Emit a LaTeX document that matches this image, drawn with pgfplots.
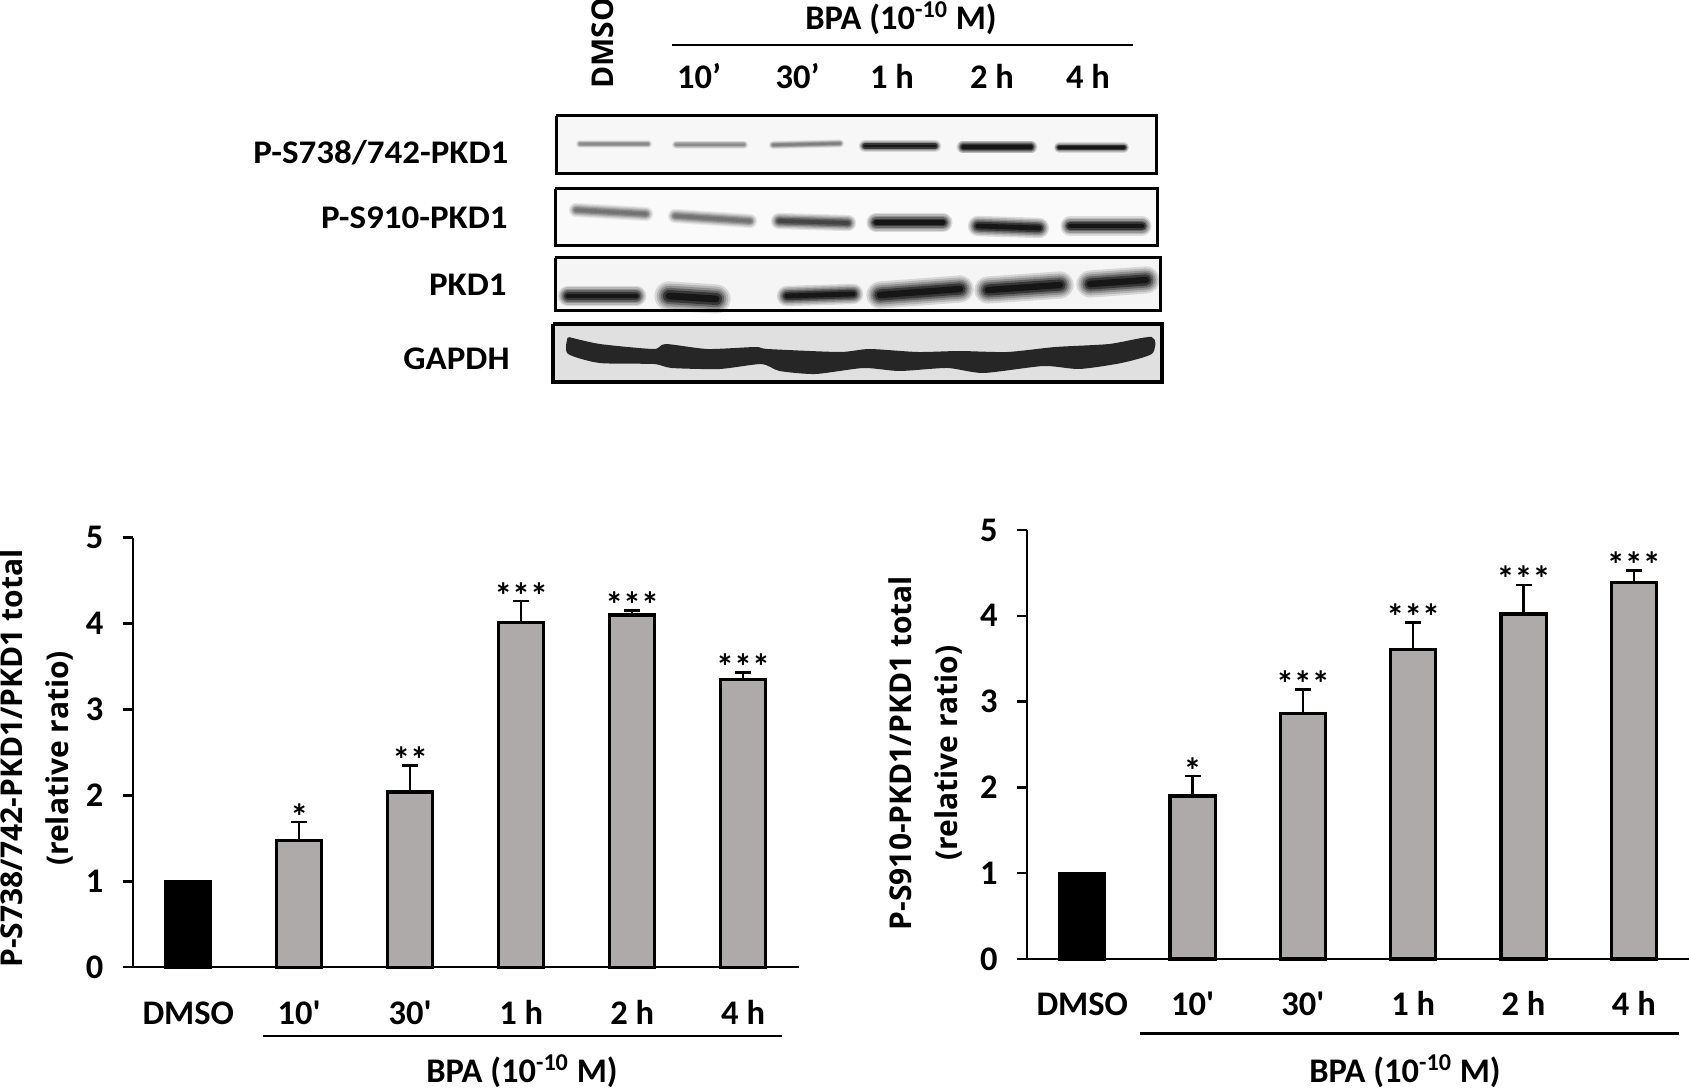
\documentclass[border=0pt]{standalone}
\usepackage{fontspec}
\usepackage{pgfplots}
\pgfplotsset{compat=1.18}
\setmainfont{Carlito}
\newfontfamily\straight{Carlito}
\newfontfamily\widefont{Carlito}[FakeStretch=1.06]
\newfontfamily\ylabfont{Open Sans}
\newcommand{\lab}{\fontsize{17.25}{20}\selectfont\bfseries}
\newcommand{\blotlab}{\fontsize{16.5}{20}\selectfont\widefont\bfseries}
\newcommand{\ylab}{\fontsize{15}{23}\selectfont\ylabfont\bfseries}
\definecolor{bargray}{HTML}{AEAAAA}

% soft edged blot band: colour, width (pt), points
\newcommand{\band}[3]{%
  \addplot[#1, line cap=round, opacity=.12, line width=#2*1.7pt] coordinates {#3};
  \addplot[#1, line cap=round, opacity=.15, line width=#2*1.45pt] coordinates {#3};
  \addplot[#1, line cap=round, opacity=.2, line width=#2*1.2pt] coordinates {#3};
  \addplot[#1, line cap=round, opacity=.3, line width=#2*0.95pt] coordinates {#3};
  \addplot[#1, line cap=round, opacity=.45, line width=#2*0.7pt] coordinates {#3};
  \addplot[#1, line cap=round, opacity=.6, line width=#2*0.4pt] coordinates {#3};
}

\pgfplotsset{
  chart/.style={
    scale only axis, clip=false,
    axis lines*=left, axis line style={-, line width=1.2pt},
    xmin=-0.5, xmax=5.5, ymin=0, ymax=5,
    xtick={0,1,2,3,4,5},
    xticklabels={DMSO,{\straight 10'},{\straight 30'},1 h,2 h,4 h},
    ytick={0,1,2,3,4,5},
    major tick length=5pt,
    tick style={black, line width=1.2pt},
    x tick style={draw=none},
    tick align=outside,
    /pgf/number format/assume math mode=true,
    tick label style={font=\lab},
    xticklabel style={anchor=base, inner sep=0pt, yshift=-23.5pt},
    yticklabel style={anchor=east, inner sep=0pt, xshift=-9.5pt},
    ylabel style={font=\ylab, align=center, rotate=0, anchor=center},
  },
  bars/.style={ybar, bar shift=0pt, bar width=22.6pt, line width=1.6pt, draw=black},
  errs/.style={error bars/.cd, y dir=plus, y explicit, error mark=-,
    error bar style={line width=1.2pt, black},
    error mark options={mark size=4pt, line width=1.2pt, black, rotate=90}},
  stars/.style={draw=none, mark=none, point meta=explicit symbolic, nodes near coords,
    every node near coord/.style={anchor=base, yshift=-3.5pt, inner sep=0pt, font=\fontsize{18}{20}\selectfont\bfseries}},
}

\begin{document}
\begin{tikzpicture}
\path[use as bounding box] (0,0) rectangle (844.5pt,545pt);

% left chart
\begin{axis}[chart, at={(66.4pt,61.35pt)}, anchor=south west, width=332.9pt, height=214.85pt,
  ylabel={P-S738/742-PKD1/PKD1 total\\(relative ratio)},
  ylabel style={at={(axis description cs:-0.144,0.486)}}]
\addplot[bars, fill=black] coordinates {(0,1)};
\addplot[bars, fill=bargray, errs] table[x=x, y=y, y error=e, row sep=\\] {
x y e\\ 1 1.48 0.21\\ 2 2.04 0.31\\ 3 4.01 0.25\\ 4 4.10 0.05\\ 5 3.35 0.08\\ };
\addplot[stars] table[x=x, y=y, meta=s, row sep=\\] {
x y s\\ 1 1.69 *\\ 2 2.35 **\\ 3 4.26 ***\\ 4 4.15 ***\\ 5 3.43 ***\\ };
\end{axis}

% right chart
\begin{axis}[chart, at={(513.55pt,65.5pt)}, anchor=south west, width=330.95pt, height=214.5pt,
  ylabel={P-S910-PKD1/PKD1 total\\(relative ratio)},
  ylabel style={at={(axis description cs:-0.154,0.480)}}]
\addplot[bars, fill=black] coordinates {(0,1)};
\addplot[bars, fill=bargray, errs] table[x=x, y=y, y error=e, row sep=\\] {
x y e\\ 1 1.90 0.23\\ 2 2.86 0.28\\ 3 3.61 0.31\\ 4 4.02 0.34\\ 5 4.39 0.14\\ };
\addplot[stars] table[x=x, y=y, meta=s, row sep=\\] {
x y s\\ 1 2.13 *\\ 2 3.14 ***\\ 3 3.92 ***\\ 4 4.36 ***\\ 5 4.53 ***\\ };
\end{axis}

% blot panels and all free text, in reference pixels
\begin{axis}[at={(0pt,0pt)}, anchor=south west, scale only axis, width=844.5pt, height=545pt,
  xmin=0, xmax=1689, ymin=0, ymax=1090, y dir=reverse, hide axis, clip=false]
\addplot[draw=black, line width=1.5pt, fill=black!3] coordinates {(556,116) (1156,116) (1156,174) (556,174) (556,116)};
\addplot[draw=black, line width=1.5pt, fill=black!2] coordinates {(555,189) (1157,189) (1157,246) (555,246) (555,189)};
\addplot[draw=black, line width=1.5pt, fill=black!4] coordinates {(555,258) (1160,258) (1160,311) (555,311) (555,258)};
\addplot[draw=black, line width=1.8pt, fill=black!12] coordinates {(553,324) (1162,324) (1162,382) (553,382) (553,324)};

\band{black!50}{2.4}{(580,144) (648,144)}
\band{black!50}{2.4}{(676,144.7) (744,144.7)}
\band{black!55}{2.4}{(773,145) (840,143.5)}
\band{black}{3.6}{(865,146) (935,146)}
\band{black}{3.8}{(963,147) (1031,147)}
\band{black}{3}{(1059,147.5) (1124,147.5)}

\band{black!60}{4.2}{(576,210) (646,214)}
\band{black!60}{4.2}{(675,216) (750,221)}
\band{black!80}{4.8}{(779,221) (848,223)}
\band{black}{5.6}{(876,222.5) (943,222.5)}
\band{black}{6}{(978,226) (1039,228)}
\band{black}{5.6}{(1070,226) (1142,226)}

\band{black}{6}{(568,296) (636,296)}
\band{black}{8.6}{(669,296) (716,299)}
\band{black}{6}{(787,296) (853,294)}
\band{black}{8}{(880,295) (960,289)}
\band{black}{8}{(988,290) (1060,285)}
\band{black}{8}{(1090,284) (1146,280)}

\addplot[smooth, tension=.4, draw=black!85, line width=1pt, fill=black!85] coordinates {
(568.5,338) (599.7,345) (653.7,350) (665.7,345) (707.6,350) (755.6,348) (767.6,350) (839.5,353)
(869.5,350) (917.5,353) (959.4,352) (1007.4,353) (1055.4,348) (1109.3,345) (1151.3,338)
(1151.3,353) (1121.3,362) (1079.3,368) (1043.4,365) (983.4,372) (947.4,367) (899.5,370)
(863.5,367) (815.5,373) (779.6,370) (761.6,363) (719.6,368) (671.7,367) (653.7,363)
(599.7,362) (568.5,353) (568.5,338)};

% bracket lines
\addplot[black, line width=1.1pt] coordinates {(672,45) (1133,45)};
\addplot[black, line width=1.4pt] coordinates {(262.5,1036) (782,1036)};
\addplot[black, line width=1.4pt] coordinates {(1140,1033.5) (1678.6,1033.5)};

% blot labels
\node[anchor=east, inner sep=0pt, font=\blotlab] at (axis cs:508.6,153) {P-S738/742-PKD1};
\node[anchor=east, inner sep=0pt, font=\blotlab] at (axis cs:508,218) {P-S910-PKD1};
\node[anchor=east, inner sep=0pt, font=\blotlab] at (axis cs:507,285) {PKD1};
\node[anchor=east, inner sep=0pt, font=\blotlab] at (axis cs:510,359) {GAPDH};

\node[inner sep=0pt, font=\lab] at (axis cs:901,18) {BPA (10\textsuperscript{-10} M)};
\node[rotate=90, anchor=base west, inner sep=0pt, font=\ylab] at (axis cs:613,89) {DMSO};
\node[inner sep=0pt, font=\lab] at (axis cs:699,76) {10’};
\node[inner sep=0pt, font=\lab] at (axis cs:797.6,76) {30’};
\node[inner sep=0pt, font=\lab] at (axis cs:892,76) {1 h};
\node[inner sep=0pt, font=\lab] at (axis cs:992,76) {2 h};
\node[inner sep=0pt, font=\lab] at (axis cs:1088,76) {4 h};

\node[inner sep=0pt, font=\lab] at (axis cs:522,1071) {BPA (10\textsuperscript{-10} M)};
\node[inner sep=0pt, font=\lab] at (axis cs:1405,1071) {BPA (10\textsuperscript{-10} M)};
\end{axis}
\end{tikzpicture}
\end{document}
